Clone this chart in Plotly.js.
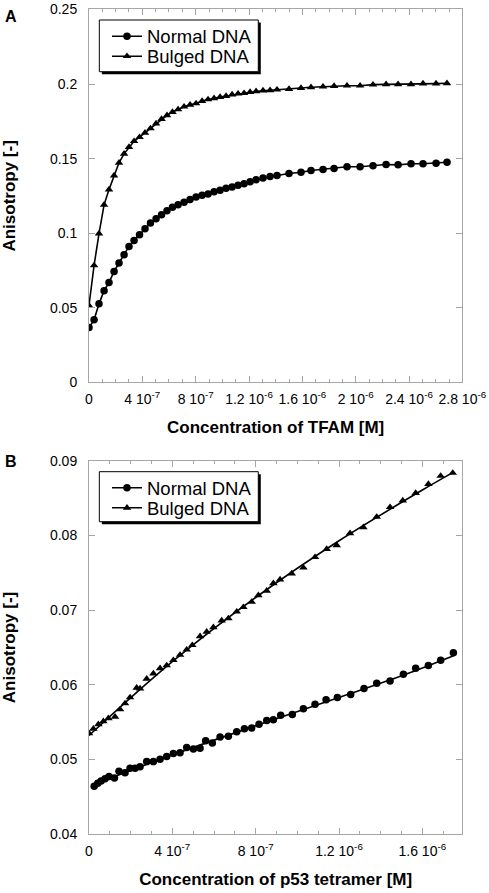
<!DOCTYPE html>
<html>
<head>
<meta charset="utf-8">
<script src="https://cdn.plot.ly/plotly-3.0.1.min.js"></script>
<style>html,body{margin:0;padding:0;background:#fff;}#chart{width:489px;height:893px;}</style>
</head>
<body>
<div id="chart"></div>
<script>
// ---------- Panel A: TFAM titration ----------
const tfamConc = [0, 3.8e-8, 7.5e-8, 1.13e-7, 1.5e-7, 1.88e-7, 2.25e-7, 2.63e-7, 3.0e-7, 3.38e-7,
  3.79e-7, 4.2e-7, 4.61e-7, 5.03e-7, 5.44e-7, 5.85e-7, 6.26e-7, 6.68e-7, 7.13e-7, 7.58e-7,
  8.03e-7, 8.48e-7, 8.93e-7, 9.38e-7, 9.83e-7, 1.028e-6, 1.073e-6, 1.118e-6, 1.163e-6, 1.208e-6,
  1.253e-6, 1.305e-6, 1.358e-6, 1.41e-6, 1.50e-6, 1.59e-6, 1.665e-6, 1.755e-6, 1.838e-6, 1.935e-6,
  2.033e-6, 2.13e-6, 2.228e-6, 2.318e-6, 2.415e-6, 2.505e-6, 2.603e-6, 2.685e-6];
const tfamNormal = [0.0367, 0.0419, 0.0526, 0.0614, 0.0669, 0.0743, 0.0800, 0.0855, 0.0911, 0.0950,
  0.0990, 0.1030, 0.1068, 0.1097, 0.1124, 0.1151, 0.1173, 0.1191, 0.1207, 0.1225,
  0.1243, 0.1254, 0.1263, 0.1277, 0.1288, 0.1301, 0.1310, 0.1321, 0.1331, 0.1345,
  0.1359, 0.1370, 0.1380, 0.1387, 0.1400, 0.1408, 0.1420, 0.1427, 0.1433, 0.1445,
  0.1445, 0.1452, 0.1460, 0.1458, 0.1465, 0.1465, 0.1469, 0.1476];
const tfamBulged = [0.0515, 0.0784, 0.0997, 0.1190, 0.1292, 0.1386, 0.1472, 0.1532, 0.1577, 0.1617,
  0.1644, 0.1673, 0.1702, 0.1735, 0.1765, 0.1790, 0.1812, 0.1830, 0.1848, 0.1861,
  0.1870, 0.1886, 0.1897, 0.1904, 0.1913, 0.1919, 0.1929, 0.1935, 0.1939, 0.1946,
  0.1951, 0.1956, 0.1958, 0.1962, 0.1966, 0.1973, 0.1978, 0.1982, 0.1986, 0.1989,
  0.1989, 0.1996, 0.1998, 0.1998, 0.1998, 0.2003, 0.2003, 0.2005];
const tfamTickVals = [0, 4e-7, 8e-7, 1.2e-6, 1.6e-6, 2e-6, 2.4e-6, 2.8e-6];
const tfamTickText = ['0', '4 10<sup>-7</sup>', '8 10<sup>-7</sup>', '1.2 10<sup>-6</sup>', '1.6 10<sup>-6</sup>',
  '2 10<sup>-6</sup>', '2.4 10<sup>-6</sup>', '2.8 10<sup>-6</sup>'];

// ---------- Panel B: p53 tetramer titration ----------
const p53ConcNormal = [2.5e-8, 4.2e-8, 5.8e-8, 7.7e-8, 9.6e-8, 1.22e-7, 1.44e-7, 1.73e-7, 1.97e-7, 2.21e-7,
  2.45e-7, 2.77e-7, 3.09e-7, 3.41e-7, 3.73e-7, 4.05e-7, 4.37e-7, 4.69e-7, 5.01e-7, 5.33e-7,
  5.60e-7, 5.92e-7, 6.29e-7, 6.69e-7, 7.09e-7, 7.46e-7, 7.81e-7, 8.16e-7, 8.53e-7, 8.85e-7,
  9.20e-7, 9.76e-7, 1.029e-6, 1.085e-6, 1.138e-6, 1.192e-6, 1.256e-6, 1.320e-6, 1.381e-6, 1.445e-6,
  1.509e-6, 1.568e-6, 1.629e-6, 1.688e-6, 1.749e-6];
const p53Normal = [0.0464, 0.0468, 0.0471, 0.0474, 0.0477, 0.0475, 0.0484, 0.0482, 0.0488, 0.0488,
  0.0490, 0.0497, 0.0497, 0.0500, 0.0504, 0.0508, 0.0509, 0.0516, 0.0514, 0.0515,
  0.0525, 0.0522, 0.0530, 0.0531, 0.0537, 0.0541, 0.0542, 0.0547, 0.0552, 0.0553,
  0.0559, 0.0560, 0.0568, 0.0574, 0.0580, 0.0583, 0.0587, 0.0595, 0.0602, 0.0605,
  0.0614, 0.0622, 0.0626, 0.0633, 0.0643];
const p53ConcBulged = [0, 2.1e-8, 4.5e-8, 6.9e-8, 9.3e-8, 1.25e-7, 1.49e-7, 1.73e-7, 1.97e-7, 2.29e-7,
  2.45e-7, 2.77e-7, 3.09e-7, 3.41e-7, 3.73e-7, 4.05e-7, 4.37e-7, 4.69e-7, 4.96e-7, 5.33e-7,
  5.65e-7, 5.97e-7, 6.37e-7, 6.69e-7, 7.09e-7, 7.41e-7, 7.81e-7, 8.13e-7, 8.53e-7, 8.85e-7,
  9.17e-7, 9.73e-7, 1.029e-6, 1.085e-6, 1.141e-6, 1.189e-6, 1.253e-6, 1.317e-6, 1.381e-6, 1.445e-6,
  1.506e-6, 1.568e-6, 1.629e-6, 1.688e-6, 1.746e-6];
const p53Bulged = [0.0535, 0.0541, 0.0547, 0.0551, 0.0555, 0.0557, 0.0567, 0.0575, 0.0583, 0.0596,
  0.0595, 0.0608, 0.0615, 0.0622, 0.0626, 0.0633, 0.0640, 0.0647, 0.0653, 0.0665,
  0.0671, 0.0677, 0.0686, 0.0689, 0.0698, 0.0704, 0.0711, 0.0720, 0.0726, 0.0736,
  0.0741, 0.0749, 0.0757, 0.0771, 0.0782, 0.0787, 0.0803, 0.0811, 0.0825, 0.0838,
  0.0847, 0.0857, 0.0869, 0.0880, 0.0884];
// fitted curves
const p53FitConcBulged = [0, 4e-7, 8e-7, 1.2e-6, 1.6e-6, 1.75e-6];
const p53FitBulged = [0.0532, 0.0631, 0.0717, 0.0793, 0.0861, 0.0885];
const p53FitConcNormal = [2e-8, 4e-7, 8e-7, 1.2e-6, 1.5e-6, 1.75e-6];
const p53FitNormal = [0.0466, 0.0506, 0.0545, 0.0583, 0.0612, 0.0639];
const p53TickVals = [0, 4e-7, 8e-7, 1.2e-6, 1.6e-6];
const p53TickText = ['0', '4 10<sup>-7</sup>', '8 10<sup>-7</sup>', '1.2 10<sup>-6</sup>', '1.6 10<sup>-6</sup>'];

const seriesNames = ['Normal DNA', 'Bulged DNA'];

// ---------- styling ----------
const FONT = 'Liberation Sans, Arial, Helvetica, sans-serif';
const AXC = '#a6a6a6';
const circ = {symbol: 'circle', size: 7.5, color: '#000'};
const tri = {symbol: 'triangle-up', size: 7.5, color: '#000'};
const ln = {color: '#000', width: 1.6};

const traces = [
  {x: tfamConc, y: tfamNormal, name: seriesNames[0], mode: 'lines+markers', marker: circ, line: ln,
   xaxis: 'x', yaxis: 'y', legend: 'legend'},
  {x: tfamConc, y: tfamBulged, name: seriesNames[1], mode: 'lines+markers', marker: tri, line: ln,
   xaxis: 'x', yaxis: 'y', legend: 'legend3'},
  // panel B fitted lines
  {x: p53FitConcNormal, y: p53FitNormal, mode: 'lines', line: Object.assign({shape: 'spline'}, ln),
   xaxis: 'x2', yaxis: 'y2', showlegend: false, hoverinfo: 'skip'},
  {x: p53FitConcBulged, y: p53FitBulged, mode: 'lines', line: Object.assign({shape: 'spline'}, ln),
   xaxis: 'x2', yaxis: 'y2', showlegend: false, hoverinfo: 'skip'},
  // panel B measured points
  {x: p53ConcNormal, y: p53Normal, name: seriesNames[0], mode: 'markers', marker: circ,
   xaxis: 'x2', yaxis: 'y2', showlegend: false},
  {x: p53ConcBulged, y: p53Bulged, name: seriesNames[1], mode: 'markers', marker: tri,
   xaxis: 'x2', yaxis: 'y2', showlegend: false},
  // legend entries for panel B (line + symbol)
  {x: [null], y: [null], name: seriesNames[0], mode: 'lines+markers', marker: circ, line: ln,
   xaxis: 'x2', yaxis: 'y2', legend: 'legend2'},
  {x: [null], y: [null], name: seriesNames[1], mode: 'lines+markers', marker: tri, line: ln,
   xaxis: 'x2', yaxis: 'y2', legend: 'legend4'}
];

function xAxis(range, vals, text, title, yref) {
  return {
    anchor: yref, domain: [0.182, 0.9455], range: range,
    tickmode: 'array', tickvals: vals, ticktext: text,
    ticks: 'inside', ticklen: 6, tickwidth: 1, tickcolor: AXC,
    minor: {tick0: 0, dtick: 1e-7, ticks: 'inside', ticklen: 3, tickcolor: AXC, tickwidth: 1, showgrid: false},
    showline: true, linecolor: AXC, linewidth: 1, mirror: 'ticks',
    showgrid: false, zeroline: false,
    tickfont: {family: FONT, size: 14, color: '#000'},
    ticklabelstandoff: 4,
    title: {text: title, font: {family: FONT, size: 17, color: '#000', weight: 'bold'}, standoff: 15}
  };
}
function yAxis(range, dtick, domain, xref) {
  return {
    anchor: xref, domain: domain, range: range, dtick: dtick, tick0: 0,
    ticks: 'inside', ticklen: 6, tickwidth: 1, tickcolor: AXC,
    showline: true, linecolor: AXC, linewidth: 1, mirror: 'ticks',
    showgrid: false, zeroline: false,
    tickfont: {family: FONT, size: 14, color: '#000'},
    ticklabelstandoff: 8,
    title: {text: 'Anisotropy [-]', font: {family: FONT, size: 17, color: '#000', weight: 'bold'}, standoff: 34}
  };
}
// one legend per row so the rows can sit as close together as in the reference
const legendRow = (y) => ({
  x: 0.2188, y: y, xanchor: 'left', yanchor: 'middle',
  bgcolor: 'rgba(0,0,0,0)', borderwidth: 0,
  font: {family: FONT, size: 18.5, color: '#000'},
  tracegroupgap: 0
});

// legend frame (white box with black border and a drop shadow)
function legendFrame(y0, y1, sy0, sy1) {
  return [
    {type: 'rect', xref: 'paper', yref: 'paper', layer: 'above', x0: 0.2082, x1: 0.5333, y0: sy0, y1: sy1,
     fillcolor: '#000', line: {width: 0}},
    {type: 'rect', xref: 'paper', yref: 'paper', layer: 'above', x0: 0.2031, x1: 0.5282, y0: y0, y1: y1,
     fillcolor: '#fff', line: {color: '#000', width: 1}}
  ];
}

const layout = {
  width: 489, height: 893,
  margin: {l: 0, r: 0, t: 0, b: 0},
  paper_bgcolor: '#fff', plot_bgcolor: '#fff',
  showlegend: true,
  xaxis: xAxis([0, 2.8e-6], tfamTickVals, tfamTickText, 'Concentration of TFAM [M]', 'y'),
  yaxis: yAxis([0, 0.25], 0.05, [0.5719, 0.9894], 'x'),
  xaxis2: xAxis([0, 1.792e-6], p53TickVals, p53TickText, 'Concentration of p53 tetramer [M]', 'y2'),
  yaxis2: yAxis([0.04, 0.09], 0.01, [0.0661, 0.4838], 'x2'),
  legend: legendRow(0.9589),
  legend3: legendRow(0.9365),
  legend2: legendRow(0.4532),
  legend4: legendRow(0.4308),
  shapes: [].concat(
    legendFrame(0.9197, 0.9776, 0.91691, 0.97480),
    legendFrame(0.41579, 0.47178, 0.41299, 0.46898)
  ),
  annotations: [
    {text: '<b>A</b>', xref: 'paper', yref: 'paper', x: 0.006, y: 0.9935, xanchor: 'left', yanchor: 'top',
     showarrow: false, font: {family: FONT, size: 16, color: '#000'}},
    {text: '<b>B</b>', xref: 'paper', yref: 'paper', x: 0.006, y: 0.4955, xanchor: 'left', yanchor: 'top',
     showarrow: false, font: {family: FONT, size: 16, color: '#000'}}
  ]
};

Plotly.newPlot('chart', traces, layout, {displayModeBar: false, staticPlot: true});
</script>
</body>
</html>
